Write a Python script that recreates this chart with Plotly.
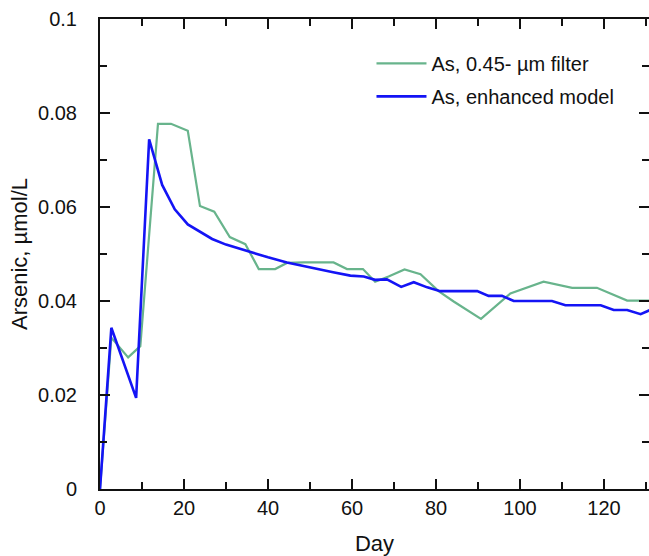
import plotly.graph_objects as go

# Measured As, 0.45-um filter
filt_day = [0, 2.7, 6.7, 9.6, 13.8, 16.9, 20.9, 23.8, 27.2, 30.9, 34.6, 37.8, 41.7, 44.5,
            48.5, 51.8, 55.6, 58.8, 62.6, 65.5, 68.7, 72.5, 76.3, 80.6, 84.2, 90.7, 97.7,
            105.6, 112.4, 118.3, 125.5, 132.5]
filt_as = [0, 0.0322, 0.0280, 0.0304, 0.0777, 0.0777, 0.0762, 0.0602, 0.0590, 0.0536, 0.0521,
           0.0468, 0.0468, 0.0481, 0.0482, 0.0482, 0.0482, 0.0468, 0.0468, 0.0441, 0.0452,
           0.0467, 0.0457, 0.0421, 0.0399, 0.0362, 0.0416, 0.0441, 0.0428, 0.0428, 0.0401, 0.0401]

# Enhanced model
model_day = [0, 2.7, 8.6, 11.7, 14.8, 17.8, 20.9, 24.0, 26.7, 30.0, 35.8, 40.0, 44.5, 48.0,
             51.7, 55.5, 59.6, 62.8, 65.5, 68.3, 71.7, 74.7, 77.9, 81.0, 89.8, 92.5, 95.7,
             98.5, 107.6, 110.8, 119.2, 122.3, 125.5, 128.7, 131.5]
model_as = [0, 0.0343, 0.0194, 0.0744, 0.0647, 0.0595, 0.0563, 0.0547, 0.0532, 0.0520, 0.0504,
            0.0493, 0.0482, 0.0475, 0.0467, 0.0461, 0.0454, 0.0452, 0.0445, 0.0446, 0.0430,
            0.0440, 0.0429, 0.0421, 0.0421, 0.0411, 0.0411, 0.0400, 0.0400, 0.0391, 0.0391,
            0.0381, 0.0381, 0.0372, 0.0383]

x_ticks = [0, 20, 40, 60, 80, 100, 120]
y_ticks = [0, 0.02, 0.04, 0.06, 0.08, 0.1]
y_labels = ["0", "0.02", "0.04", "0.06", "0.08", "0.1"]

FONT = "Liberation Sans, Arial, sans-serif"
INK = "#111"

fig = go.Figure()
fig.add_trace(go.Scatter(x=filt_day, y=filt_as, mode="lines", name="As, 0.45- µm filter",
                         line=dict(color="rgb(104,180,140)", width=2.2), legendgroup="a"))
fig.add_trace(go.Scatter(x=model_day, y=model_as, mode="lines", name="As, enhanced model",
                         line=dict(color="rgb(20,20,245)", width=2.6), legendgroup="b"))
# invisible companion trace so the mirrored right-hand axis is drawn
fig.add_trace(go.Scatter(x=model_day, y=model_as, mode="lines", yaxis="y2", showlegend=False,
                         hoverinfo="skip", line=dict(color="rgba(0,0,0,0)", width=0)))

minor_x = dict(dtick=10, tick0=0, ticks="inside", ticklen=7, tickwidth=2, tickcolor=INK, showgrid=False)
minor_y = dict(dtick=0.01, tick0=0, ticks="inside", ticklen=7, tickwidth=2, tickcolor=INK, showgrid=False)

fig.update_layout(
    width=649, height=556,
    margin=dict(l=100, r=0, t=19, b=67),
    plot_bgcolor="white", paper_bgcolor="white",
    font=dict(family=FONT, color=INK, size=20),
    showlegend=True,
    legend=dict(x=0.4945, y=0.947, xanchor="left", yanchor="top",
                font=dict(size=20, family=FONT, color=INK), itemwidth=50,
                bgcolor="rgba(0,0,0,0)", tracegroupgap=4),
    xaxis=dict(range=[0, 130.7], tickvals=x_ticks, ticks="inside", ticklen=10, tickwidth=2,
               tickcolor=INK, showline=True, linecolor=INK, linewidth=2, mirror="ticks",
               showgrid=False, zeroline=False, ticklabelstandoff=0, automargin=False,
               minor=minor_x,
               title=dict(text="Day", font=dict(size=22, family=FONT), standoff=20)),
    yaxis=dict(range=[0, 0.1], tickvals=y_ticks, ticktext=y_labels, ticks="inside", ticklen=10,
               tickwidth=2, tickcolor=INK, showline=True, linecolor=INK, linewidth=2,
               showgrid=False, zeroline=False, ticklabelstandoff=17, automargin=False,
               minor=minor_y,
               title=dict(text="Arsenic, µmol/L", font=dict(size=22, family=FONT), standoff=4)),
    yaxis2=dict(range=[0, 0.1], overlaying="y", side="right", tickvals=y_ticks, ticks="inside",
                ticklen=10, tickwidth=2, tickcolor=INK, showline=False, showticklabels=False,
                showgrid=False, zeroline=False, automargin=False, minor=minor_y),
)

fig.write_html("out.html", config={"displayModeBar": False},
               post_script="document.body.style.margin='0';document.body.style.overflow='hidden';")
